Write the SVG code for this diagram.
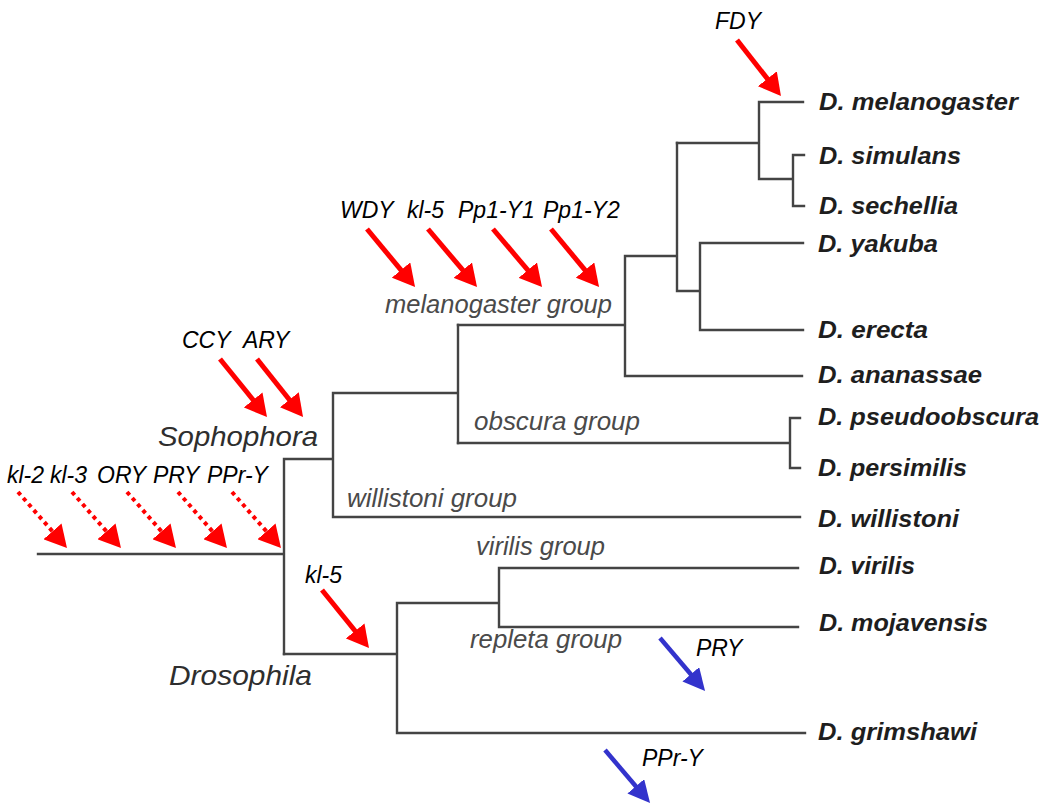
<svg xmlns="http://www.w3.org/2000/svg" width="1050" height="810" viewBox="0 0 1050 810">
<defs>
<style>
.br{fill:none;stroke:#444;stroke-width:2.4;stroke-linecap:square}
.sp{font-family:"Liberation Sans",Arial,sans-serif;font-weight:bold;font-style:italic;font-size:23.5px;fill:#1e1e1e}
.grp{font-family:"Liberation Sans",Arial,sans-serif;font-style:italic;font-size:25px;fill:#4a4a4a}
.big{font-family:"Liberation Sans",Arial,sans-serif;font-style:italic;font-size:28px;fill:#2e2e2e}
.gene{font-family:"Liberation Sans",Arial,sans-serif;font-style:italic;font-size:23px;fill:#000}
.ar{fill:none;stroke:#ff0000;stroke-width:5}
.ard{fill:none;stroke:#ff0000;stroke-width:4;stroke-dasharray:4 4}
.ab{fill:none;stroke:#3333cc;stroke-width:4.5}
</style>
<marker id="hr" viewBox="0 0 22 24" refX="2" refY="12" markerWidth="22" markerHeight="24" markerUnits="userSpaceOnUse" orient="auto"><path d="M0,0 L22,12 L0,24 z" fill="#ff0000"/></marker>
<marker id="hb" viewBox="0 0 22 22" refX="2" refY="11" markerWidth="22" markerHeight="22" markerUnits="userSpaceOnUse" orient="auto"><path d="M0,0 L22,11 L0,22 z" fill="#3333cc"/></marker>
</defs>
<rect width="1050" height="810" fill="#fff"/>
<g id="connectors">
<path class="br" d="M38,554 H284 M284,459 V654 M284,459 H333 M333,393 V517 M333,393 H458 M458,325 V443 M333,517 H800"/>
<path class="br" d="M458,325 H625 M625,256 V376 M625,376 H802 M625,256 H677 M677,143 V291 M677,291 H700 M700,243 V330 M700,243 H803 M700,330 H803"/>
<path class="br" d="M677,143 H759 M759,102 V179 M759,102 H803 M759,179 H793 M793,155 V206 M793,155 H804 M793,206 H804"/>
<path class="br" d="M458,443 H790 M790,418 V468 M790,418 H800 M790,468 H800"/>
<path class="br" d="M284,654 H397 M397,603 V733 M397,733 H805 M397,603 H499 M499,568 V627 M499,568 H798 M499,627 H798"/>
</g>
<g id="clade-labels">
<text id="sophophora" class="big" x="158" y="446" textLength="160" lengthAdjust="spacingAndGlyphs">Sophophora</text>
<text id="drosophila" class="big" x="169" y="685" textLength="143" lengthAdjust="spacingAndGlyphs">Drosophila</text>
<text id="melanogaster-group" class="grp" x="385" y="313" textLength="227" lengthAdjust="spacingAndGlyphs">melanogaster group</text>
<text id="obscura-group" class="grp" x="474" y="430" textLength="166" lengthAdjust="spacingAndGlyphs">obscura group</text>
<text id="willistoni-group" class="grp" x="347" y="507" textLength="170" lengthAdjust="spacingAndGlyphs">willistoni group</text>
<text id="virilis-group" class="grp" x="476" y="555" textLength="129" lengthAdjust="spacingAndGlyphs">virilis group</text>
<text id="repleta-group" class="grp" x="470" y="648" textLength="152" lengthAdjust="spacingAndGlyphs">repleta group</text>
</g>
<g id="species">
<g id="d-melanogaster"><text class="sp" x="819" y="110" textLength="199" lengthAdjust="spacingAndGlyphs">D. melanogaster</text></g>
<g id="d-simulans"><text class="sp" x="819" y="164" textLength="142" lengthAdjust="spacingAndGlyphs">D. simulans</text></g>
<g id="d-sechellia"><text class="sp" x="819" y="214" textLength="139" lengthAdjust="spacingAndGlyphs">D. sechellia</text></g>
<g id="d-yakuba"><text class="sp" x="818" y="252" textLength="120" lengthAdjust="spacingAndGlyphs">D. yakuba</text></g>
<g id="d-erecta"><text class="sp" x="818" y="338" textLength="110" lengthAdjust="spacingAndGlyphs">D. erecta</text></g>
<g id="d-ananassae"><text class="sp" x="818" y="383" textLength="164" lengthAdjust="spacingAndGlyphs">D. ananassae</text></g>
<g id="d-pseudoobscura"><text class="sp" x="818" y="425" textLength="221" lengthAdjust="spacingAndGlyphs">D. pseudoobscura</text></g>
<g id="d-persimilis"><text class="sp" x="818" y="476" textLength="149" lengthAdjust="spacingAndGlyphs">D. persimilis</text></g>
<g id="d-willistoni"><text class="sp" x="818" y="527" textLength="141" lengthAdjust="spacingAndGlyphs">D. willistoni</text></g>
<g id="d-virilis"><text class="sp" x="819" y="574" textLength="96" lengthAdjust="spacingAndGlyphs">D. virilis</text></g>
<g id="d-mojavensis"><text class="sp" x="819" y="631" textLength="169" lengthAdjust="spacingAndGlyphs">D. mojavensis</text></g>
<g id="d-grimshawi"><text class="sp" x="818" y="740" textLength="159" lengthAdjust="spacingAndGlyphs">D. grimshawi</text></g>
</g>
<g id="gene-events">
<g id="ev-kl2"><text class="gene" x="7" y="483">kl-2</text><path class="ard" d="M18,492 L53.8,532.9" marker-end="url(#hr)"/></g>
<g id="ev-kl3"><text class="gene" x="50" y="483">kl-3</text><path class="ard" d="M72,492 L107.8,532.9" marker-end="url(#hr)"/></g>
<g id="ev-ory"><text class="gene" x="97" y="483">ORY</text><path class="ard" d="M127,492 L162.8,532.9" marker-end="url(#hr)"/></g>
<g id="ev-pry"><text class="gene" x="153" y="483">PRY</text><path class="ard" d="M178,492 L213.8,532.9" marker-end="url(#hr)"/></g>
<g id="ev-ppry"><text class="gene" x="207" y="483">PPr-Y</text><path class="ard" d="M232,492 L267.8,532.9" marker-end="url(#hr)"/></g>
<g id="ev-ccy"><text class="gene" x="182" y="348">CCY</text><path class="ar" d="M220,359 L254.4,401.5" marker-end="url(#hr)"/></g>
<g id="ev-ary"><text class="gene" x="243" y="348">ARY</text><path class="ar" d="M257,359 L290.6,401.3" marker-end="url(#hr)"/></g>
<g id="ev-wdy"><text class="gene" x="340" y="218">WDY</text><path class="ar" d="M367,229 L402.3,271.6" marker-end="url(#hr)"/></g>
<g id="ev-kl5a"><text class="gene" x="407" y="218">kl-5</text><path class="ar" d="M428,229 L464.1,271.7" marker-end="url(#hr)"/></g>
<g id="ev-pp1y1"><text class="gene" x="458" y="218">Pp1-Y1</text><path class="ar" d="M493,229 L529.1,271.7" marker-end="url(#hr)"/></g>
<g id="ev-pp1y2"><text class="gene" x="543" y="218">Pp1-Y2</text><path class="ar" d="M551,229 L586.3,271.6" marker-end="url(#hr)"/></g>
<g id="ev-fdy"><text class="gene" x="715" y="29">FDY</text><path class="ar" d="M737,40 L768.6,80.3" marker-end="url(#hr)"/></g>
<g id="ev-kl5b"><text class="gene" x="305" y="583">kl-5</text><path class="ar" d="M322,590 L356.4,632.5" marker-end="url(#hr)"/></g>
<g id="ev-pry-loss"><text class="gene" x="696" y="656">PRY</text><path class="ab" d="M660,638 L692.1,675.8" marker-end="url(#hb)"/></g>
<g id="ev-ppry-loss"><text class="gene" x="642" y="766">PPr-Y</text><path class="ab" d="M605,750 L637.1,787.8" marker-end="url(#hb)"/></g>
</g>
</svg>
